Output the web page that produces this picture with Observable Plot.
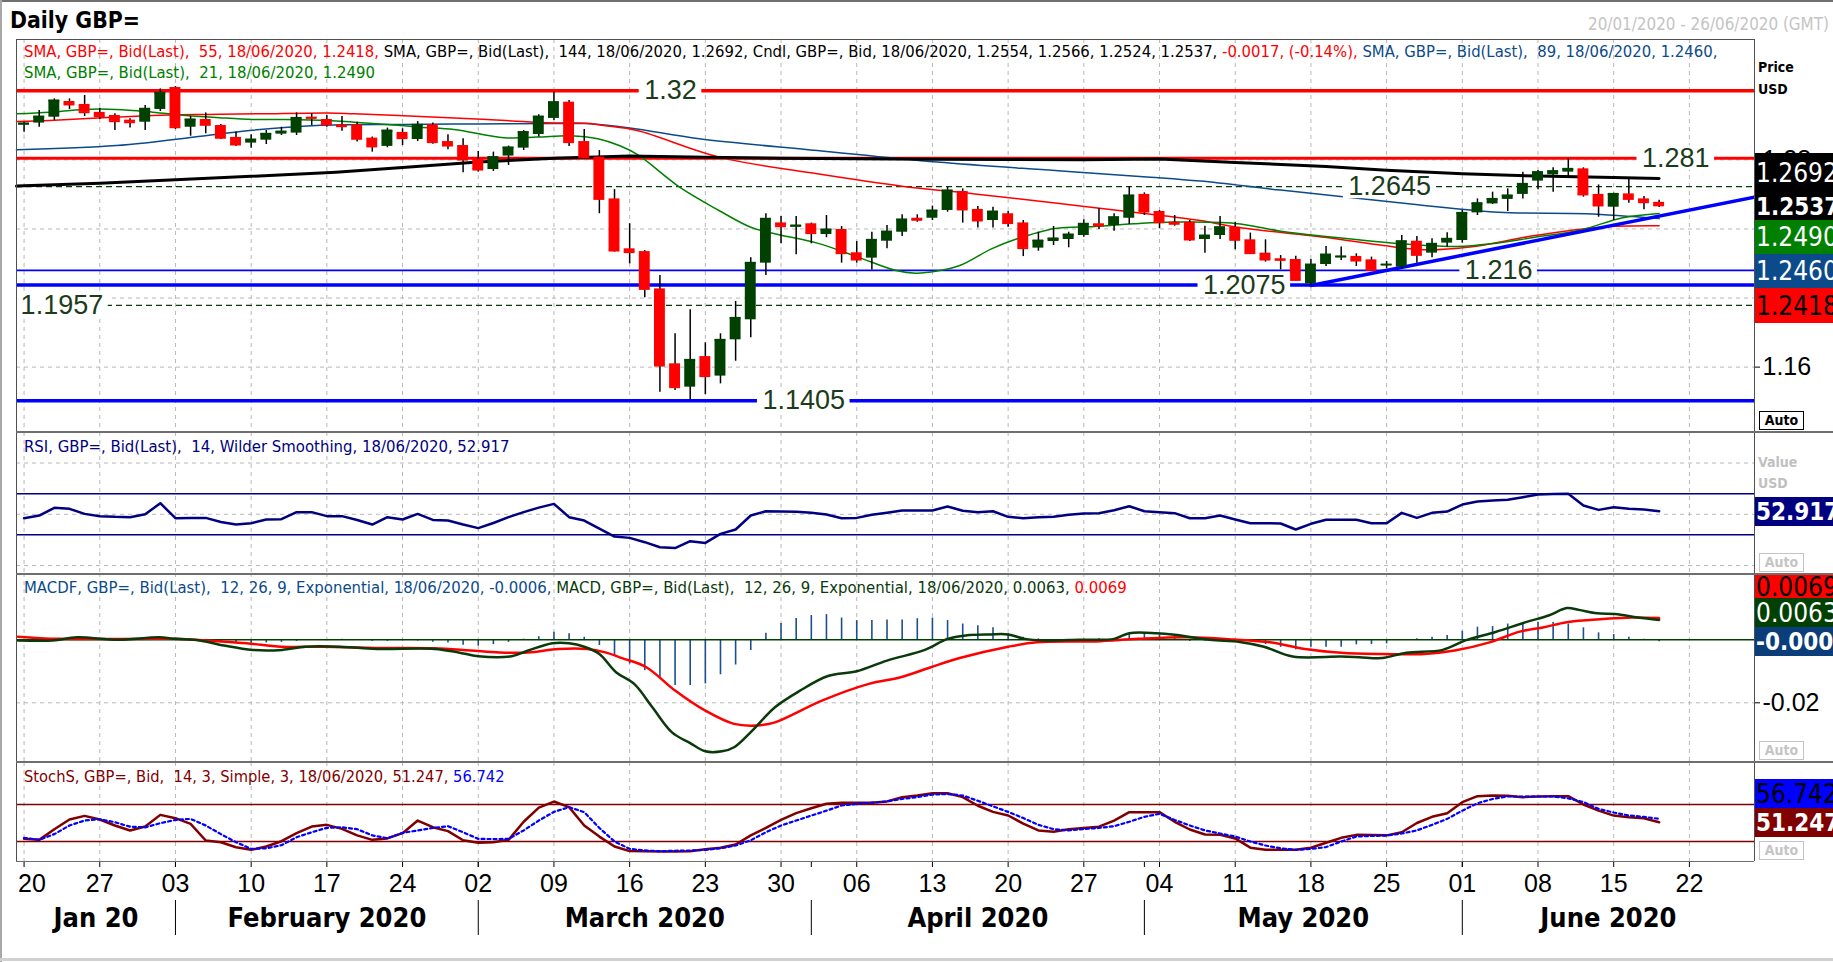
<!DOCTYPE html>
<html><head><meta charset="utf-8">
<script src="https://cdn.jsdelivr.net/npm/d3@7"></script>
<script src="https://cdn.jsdelivr.net/npm/@observablehq/plot@0.6"></script>
<style>
body{margin:0;background:#fff;}
#root{position:relative;width:1833px;height:962px;overflow:hidden;background:#fff;}
#root div{position:absolute;}
.lg{white-space:pre;line-height:1;font-family:"DejaVu Sans Condensed","DejaVu Sans",sans-serif;}
.vb{display:flex;align-items:center;overflow:hidden;white-space:nowrap;font-family:"DejaVu Sans Condensed","DejaVu Sans",sans-serif;font-size:26px;line-height:1;padding-left:1px;box-sizing:border-box;}
.auto{box-sizing:border-box;text-align:center;font:bold 14px "DejaVu Sans Condensed",sans-serif;line-height:17px;}
</style></head><body><div id="root"></div>
<script>
// ---------------- DATA ----------------
// daily candles, trading-day index 0 = 20 Jan 2020 ... 108 = 18 Jun 2020
const open = [1.3001,1.3013,1.3047,1.3138,1.3121,1.3075,1.3057,1.3030,1.3018,1.3092,
1.3219,1.2989,1.3034,1.2999,1.2930,1.2897,1.2914,1.2949,1.2955,1.3047,
1.3034,1.3003,1.3003,1.2926,1.2878,1.2959,1.2918,1.3003,1.2906,1.2883,
1.2802,1.2744,1.2822,1.2868,1.2947,1.3040,1.3134,1.2906,1.2816,1.2574,
1.2285,1.2269,1.2053,1.1619,1.1484,1.1661,1.1548,1.1758,1.1874,1.2202,
1.2435,1.2410,1.2430,1.2368,1.2397,1.2262,1.2231,1.2329,1.2381,1.2462,
1.2462,1.2507,1.2617,1.2513,1.2449,1.2488,1.2435,1.2289,1.2327,1.2339,
1.2362,1.2430,1.2420,1.2462,1.2600,1.2501,1.2439,1.2439,1.2339,1.2362,
1.2410,1.2337,1.2260,1.2227,1.2223,1.2082,1.2194,1.2233,1.2241,1.2221,
1.2188,1.2179,1.2329,1.2260,1.2318,1.2333,1.2493,1.2545,1.2571,1.2600,
1.2677,1.2713,1.2729,1.2748,1.2600,1.2526,1.2603,1.2574,1.2554];
const high = [1.3018,1.3086,1.3153,1.3153,1.3173,1.3099,1.3067,1.3038,1.3115,1.3211,
1.3225,1.3051,1.3072,1.3005,1.2961,1.2945,1.2970,1.2989,1.3072,1.3067,
1.3057,1.3051,1.3018,1.2932,1.2984,1.2980,1.3022,1.3014,1.2945,1.2922,
1.2849,1.2845,1.2880,1.2970,1.3061,1.3192,1.3144,1.2976,1.2854,1.2628,
1.2430,1.2275,1.2130,1.1793,1.1932,1.1741,1.1793,1.1980,1.2233,1.2488,
1.2472,1.2472,1.2434,1.2478,1.2414,1.2327,1.2381,1.2420,1.2482,1.2482,
1.2532,1.2642,1.2632,1.2530,1.2526,1.2501,1.2449,1.2381,1.2414,1.2381,
1.2453,1.2517,1.2488,1.2646,1.2609,1.2507,1.2478,1.2449,1.2416,1.2472,
1.2439,1.2376,1.2337,1.2246,1.2242,1.2223,1.2298,1.2295,1.2256,1.2237,
1.2212,1.2362,1.2356,1.2343,1.2378,1.2507,1.2574,1.2613,1.2632,1.2729,
1.2739,1.2754,1.2806,1.2754,1.2655,1.2607,1.2696,1.2588,1.2566];
const low = [1.2960,1.2989,1.3028,1.3092,1.3051,1.3034,1.2970,1.2984,1.2970,1.3080,
1.2976,1.2937,1.2951,1.2918,1.2877,1.2868,1.2889,1.2941,1.2941,1.2999,
1.2989,1.2966,1.2903,1.2845,1.2870,1.2883,1.2906,1.2891,1.2858,1.2725,
1.2729,1.2733,1.2768,1.2854,1.2932,1.3028,1.2878,1.2802,1.2488,1.2266,
1.2198,1.2001,1.1455,1.1465,1.1411,1.1441,1.1503,1.1634,1.1770,1.2130,
1.2314,1.2250,1.2314,1.2349,1.2202,1.2202,1.2163,1.2285,1.2356,1.2439,
1.2449,1.2497,1.2434,1.2405,1.2405,1.2410,1.2240,1.2271,1.2304,1.2291,
1.2352,1.2397,1.2387,1.2426,1.2478,1.2401,1.2416,1.2327,1.2260,1.2339,
1.2279,1.2252,1.2208,1.2163,1.2098,1.2073,1.2183,1.2217,1.2183,1.2156,
1.2169,1.2169,1.2202,1.2233,1.2295,1.2318,1.2478,1.2542,1.2501,1.2574,
1.2627,1.2613,1.2700,1.2584,1.2468,1.2449,1.2549,1.2511,1.2524];
const close = [1.3011,1.3051,1.3144,1.3121,1.3076,1.3053,1.3024,1.3018,1.3096,1.3188,
1.2989,1.3034,1.3003,1.2928,1.2889,1.2918,1.2951,1.2964,1.3043,1.3043,
1.3005,1.2995,1.2922,1.2878,1.2970,1.2926,1.3003,1.2903,1.2883,1.2802,
1.2744,1.2816,1.2872,1.2961,1.3051,1.3134,1.2903,1.2816,1.2574,1.2275,
1.2266,1.2053,1.1609,1.1484,1.1642,1.1548,1.1758,1.1885,1.2204,1.2459,
1.2416,1.2420,1.2376,1.2397,1.2260,1.2223,1.2337,1.2385,1.2455,1.2453,
1.2507,1.2623,1.2513,1.2449,1.2501,1.2434,1.2289,1.2333,1.2345,1.2368,
1.2430,1.2420,1.2468,1.2594,1.2501,1.2439,1.2430,1.2339,1.2362,1.2410,
1.2337,1.2260,1.2223,1.2221,1.2105,1.2194,1.2252,1.2241,1.2217,1.2163,
1.2194,1.2329,1.2250,1.2314,1.2343,1.2493,1.2549,1.2574,1.2594,1.2661,
1.2729,1.2735,1.2748,1.2600,1.2536,1.2603,1.2574,1.2555,1.2537];

// moving averages read as [index, value]
const sma21 = [[-0.5,1.3067],[1.7,1.3076],[3.9,1.3092],[6.1,1.3092],[8.5,1.3076],[10.7,1.3057],[12.9,1.3044],[15.1,1.3034],[17.3,1.3034],[20.1,1.3028],[21.8,1.3018],[24,1.3005],[26.2,1.2989],[28.4,1.2976],[31.7,1.2928],[33.9,1.2932],[36.1,1.2940],[37.9,1.2922],[39.4,1.2880],[40.6,1.2826],[43.3,1.2642],[45.9,1.2507],[48,1.2410],[49.8,1.2368],[52.4,1.2318],[55,1.2240],[57.6,1.2159],[58.9,1.2144],[60.3,1.2156],[61.8,1.2188],[63.9,1.2285],[65.5,1.2340],[68.1,1.2403],[70.7,1.2414],[73.3,1.2430],[76,1.2440],[80,1.2432],[83,1.2387],[86,1.2356],[89.8,1.2323],[92.6,1.2304],[94.6,1.2298],[96.9,1.2314],[99.8,1.2352],[102.7,1.2391],[105.6,1.2465],[108,1.2490]];
const sma55 = [[-0.5,1.3022],[1.7,1.3028],[5.2,1.3044],[8.5,1.3057],[12,1.3063],[15.6,1.3067],[20.1,1.3072],[21.8,1.3067],[26.2,1.3051],[29.5,1.3038],[35,1.3014],[37.2,1.3012],[38.3,1.2999],[40.5,1.2970],[45.9,1.2816],[52.4,1.2719],[58.1,1.2646],[62.8,1.2603],[68.1,1.2550],[73.3,1.2497],[77.7,1.2449],[80.1,1.2410],[85.9,1.2352],[89.8,1.2304],[92.6,1.2279],[95.5,1.2295],[99.8,1.2362],[104.1,1.2410],[108,1.2418]];
const sma89 = [[-0.5,1.2858],[6.1,1.2883],[12.1,1.2941],[14.9,1.2970],[19.3,1.2999],[25,1.3005],[30,1.3008],[35,1.3010],[37,1.3010],[40,1.2985],[44.6,1.2922],[52.4,1.2854],[60.3,1.2787],[68.1,1.2738],[74.4,1.2700],[77.7,1.2677],[83,1.2625],[91.6,1.2545],[97.4,1.2497],[103.2,1.2488],[108,1.2460]];
const sma144 = [[-0.5,1.2648],[5,1.2665],[10,1.2685],[15,1.2705],[20.6,1.2729],[25,1.2756],[30,1.2787],[35,1.2810],[40,1.2822],[45,1.2815],[50,1.2810],[55,1.2806],[60,1.2804],[65,1.2802],[70,1.2800],[75,1.2805],[80,1.2785],[86,1.2762],[90,1.2740],[95,1.2719],[100,1.2706],[105,1.2698],[108,1.2692]];

// support / resistance levels and trend line
const levels = [1.32, 1.281, 1.2645, 1.216, 1.2075, 1.1957, 1.1405];
const levelText = ["1.32","1.281","1.2645","1.216","1.2075","1.1957","1.1405"];
const levelLabelAt = [42.7, 109.1, 90.2, 97.4, 80.6, 2.5, 51.5];
const trendIdx = [85, 114.3];
const trendPrice = [1.2073, 1.2584];
const priceTicks = [1.16, 1.20, 1.24, 1.28];
const priceGrid = [1.16, 1.20, 1.24, 1.28, 1.32];

// RSI (14)
const rsi = [46.2,48.8,56.3,55.3,50.4,48.2,47.5,47.2,50.0,60.8,
46.2,46.5,46.5,42.5,40.0,41.3,44.9,45.2,52.1,52.1,
48.2,48.2,44.5,40.0,47.2,44.9,50.4,44.5,43.9,40.0,
36.5,41.5,47.2,52.1,56.5,60.2,47.2,43.9,36.0,28.3,
27.0,22.8,17.9,17.0,23.8,22.1,30.9,35.2,48.8,53.0,
52.8,52.5,51.5,49.8,46.2,46.5,49.5,51.5,53.7,53.7,
53.7,57.6,53.5,52.1,53.0,47.5,46.2,47.0,47.5,49.5,
50.8,51.1,54.0,57.9,53.0,52.0,51.1,46.2,46.2,48.8,
45.0,41.3,41.3,41.0,35.2,40.7,44.6,44.6,44.6,41.3,
41.3,51.4,46.5,51.4,52.7,59.5,62.5,63.5,64.1,66.7,
69.3,69.8,70.0,58.6,54.3,56.9,55.3,54.7,52.917];

// MACD (12,26,9): line and signal read as [index, value]; histogram per day
const macdLine = [[-0.4,-0.0002],[1.9,-0.0002],[3.5,0.0008],[6.2,0.0000],[8.9,0.0008],[10,0.0003],[11.6,-0.0002],[13.2,-0.0018],[15.1,-0.0032],[17.05,-0.0032],[18.6,-0.0022],[20.9,-0.0022],[23.3,-0.0029],[27.1,-0.0029],[28.7,-0.0040],[30,-0.0052],[32.2,-0.0052],[33.3,-0.0034],[34.9,-0.0011],[36,-0.0011],[37,-0.0022],[38,-0.0045],[39.1,-0.0103],[40.3,-0.0140],[41.5,-0.0214],[42.8,-0.0294],[44,-0.0328],[45,-0.0354],[46.1,-0.0354],[46.9,-0.0341],[48.1,-0.0288],[49.6,-0.0214],[51.2,-0.0163],[53.1,-0.0115],[55,-0.0100],[57,-0.0066],[59.5,-0.0032],[61,0.0003],[62.2,0.0014],[63.8,0.0017],[65,0.0017],[66.1,0.0003],[67.3,-0.0002],[69.7,0.0000],[72,0.0003],[73,0.0021],[74.8,0.0021],[76,0.0016],[78.3,0.0000],[80.3,-0.0007],[81.9,-0.0022],[83.8,-0.0053],[87,-0.0053],[88.2,-0.0055],[89.7,-0.0058],[91.3,-0.0041],[93.7,-0.0032],[95.2,-0.0002],[97.2,0.0025],[99.2,0.0056],[100.7,0.0077],[101.9,0.0101],[102.7,0.0095],[103.9,0.0084],[105.1,0.0082],[106.6,0.0071],[108,0.0063]];
const macdSignal = [[-0.4,0.0010],[2.3,0.0003],[10,0.0003],[12,-0.0002],[14.7,-0.0011],[17,-0.0022],[19.8,-0.0022],[23.3,-0.0026],[27.1,-0.0027],[29.5,-0.0034],[31.4,-0.0040],[33.3,-0.0040],[35.3,-0.0029],[37.2,-0.0029],[38.4,-0.0040],[39.5,-0.0058],[41.1,-0.0087],[43,-0.0161],[45,-0.0225],[46.9,-0.0267],[48.4,-0.0272],[49.6,-0.0262],[52.7,-0.0193],[55.8,-0.0140],[57.9,-0.0119],[59.9,-0.0087],[61.8,-0.0058],[65,-0.0022],[66.9,-0.0008],[70.8,-0.0005],[73.6,0.0003],[76.8,0.0008],[79.9,0.0001],[82.3,-0.0008],[84.6,-0.0029],[87,-0.0041],[89.3,-0.0045],[92.5,-0.0045],[94.5,-0.0034],[96.8,-0.0008],[98.8,0.0026],[100.4,0.0040],[101.9,0.0056],[104.3,0.0066],[106.2,0.0071],[108,0.0069]];
const macdHist = [-0.0003,-0.0002,0,0.0001,0,0,0,0,0.0001,0.0002,
0,-0.0001,-0.0003,-0.0006,-0.0011,-0.0012,-0.0010,-0.0008,-0.0005,-0.0002,
0,0.0002,-0.0002,-0.0005,-0.0005,-0.0003,-0.0004,-0.0008,-0.0010,-0.0017,
-0.0020,-0.0015,-0.0008,0.0002,0.0010,0.0024,0.0019,0.0008,-0.0018,-0.0050,
-0.0077,-0.0098,-0.0119,-0.0145,-0.0145,-0.0140,-0.0111,-0.0080,-0.0034,0.0021,
0.0052,0.0068,0.0077,0.0080,0.0069,0.0061,0.0061,0.0063,0.0063,0.0067,
0.0069,0.0061,0.0050,0.0045,0.0038,0.0019,0.0008,0.0003,-0.0001,0.0001,
0.0002,0.0003,0.0002,0.0020,0.0020,0.0016,0.0010,-0.0005,-0.0004,-0.0001,
-0.0005,-0.0007,-0.0015,-0.0024,-0.0032,-0.0024,-0.0024,-0.0024,-0.0016,-0.0015,
-0.0013,-0.0002,0.0003,0.0008,0.0014,0.0027,0.0040,0.0042,0.0050,0.0055,
0.0055,0.0055,0.0050,0.0038,0.0022,0.0017,0.0008,0.0002,-0.0006];

// Slow stochastic (14,3,3)
const stochK = [24.3,22.7,40.0,55.7,61.6,55.7,46.0,37.8,44.3,63.2,
57.8,48.6,21.6,18.9,10.8,6.5,11.9,20.5,33.5,44.3,
47.0,40.5,30.0,22.7,25.0,33.5,54.0,43.2,36.8,22.0,
17.9,18.9,22.7,52.0,75.0,84.8,75.7,46.0,28.0,12.0,
4.5,4.3,3.8,4.0,4.3,7.6,10.0,15.2,30.0,42.0,
55.0,66.0,74.0,81.1,82.7,82.7,82.7,85.0,91.9,94.6,
98.3,98.3,91.9,78.0,68.0,62.2,49.0,38.0,36.0,40.0,
42.0,44.0,54.0,67.6,67.6,67.6,52.0,39.5,31.4,31.0,
25.0,10.0,6.5,6.5,6.5,10.0,18.0,26.0,30.8,30.5,
30.0,35.0,50.0,60.0,65.9,83.8,93.5,94.6,94.0,91.9,
93.0,93.5,93.5,80.0,70.0,62.0,59.5,57.8,51.247];
const stochD = [26.0,22.7,32.0,46.0,54.0,56.0,51.3,44.0,43.0,49.7,
55.0,56.7,46.0,32.0,18.9,8.1,9.0,14.0,27.0,35.0,
42.2,43.0,40.0,30.0,25.4,34.0,38.0,42.0,44.8,35.0,
24.3,24.0,24.3,38.0,54.0,68.0,75.7,67.6,42.0,20.0,
8.1,5.5,4.3,5.0,5.5,6.5,9.0,13.5,22.0,35.0,
46.0,54.0,62.0,70.0,78.4,81.0,83.0,85.0,89.0,92.0,
96.0,97.0,94.6,86.0,77.0,68.0,58.0,47.0,40.0,38.0,
40.0,42.0,44.8,52.0,60.0,64.9,55.0,46.0,38.0,33.0,
28.1,20.0,13.5,9.0,6.5,8.0,11.0,20.0,28.1,29.0,
29.7,33.0,38.0,47.0,56.7,70.0,82.0,89.0,93.0,93.0,
93.0,93.0,90.0,84.0,73.0,67.0,62.2,60.0,56.742];

// axis labels
const weekLabels = ["20","27","03","10","17","24","02","09","16","23","30","06","13","20","27","04","11","18","25","01","08","15","22"];
const monthNames = ["Jan 20","February 2020","March 2020","April 2020","May 2020","June 2020"];
const monthStartIdx = [-0.5, 10, 30, 52, 74, 95];

// ---------------- DRAWING ----------------
const root = document.getElementById("root");
const W = 1833, X0 = -0.5, X1 = 114.3;
const GREEN = "#004000", RED = "#ff0000", GRID = "#b8b8b8";
const weekIdx = weekLabels.map((_, k) => 5 * k);
const vgrid = () => Plot.ruleX(weekIdx, {stroke: GRID, strokeDasharray: "4,4", strokeWidth: 1});

function panel(top, height, yDomain, marks) {
  const svg = Plot.plot({
    width: W, height, marginLeft: 16, marginRight: 79, marginTop: 0, marginBottom: 0,
    x: {type: "linear", domain: [X0, X1], axis: null},
    y: yDomain ? {domain: yDomain, axis: null} : undefined,
    marks,
    style: {background: "transparent", overflow: "hidden", fontFamily: "Liberation Sans, Arial, sans-serif", color: "#000"}
  });
  const wrap = document.createElement("div");
  wrap.style.left = "0px"; wrap.style.top = top + "px";
  wrap.appendChild(svg);
  root.appendChild(wrap);
  return svg;
}
function box(l, t, w, h, style) {
  const d = document.createElement("div");
  Object.assign(d.style, {left: l + "px", top: t + "px", width: w + "px", height: h + "px"}, style || {});
  root.appendChild(d);
  return d;
}

// main price panel
const candles = close.map((c, i) => ({i, o: open[i], h: high[i], l: low[i], c, up: c >= open[i]}));
const up = candles.filter(d => d.up), dn = candles.filter(d => !d.up);
const HW = 0.36;
const pts = a => a.map(([x, y]) => ({x, y}));
const LABEL_FONT = "27px 'Liberation Sans'";
const ctx = document.createElement("canvas").getContext("2d");
ctx.font = LABEL_FONT;
// white background behind each level label (sized from the label text)
const labelBacks = levels.map((v, k) => {
  const half = ctx.measureText(levelText[k]).width / 2 + 5;
  return Plot.rect([v], {x1: levelLabelAt[k], x2: levelLabelAt[k], y1: v, y2: v,
    insetLeft: -half, insetRight: -half, insetTop: -12, insetBottom: -12, fill: "white"});
});
const mainMarks = [
  vgrid(),
  Plot.ruleY(priceGrid, {stroke: GRID, strokeDasharray: "4,4", strokeWidth: 1}),
  ...levels.map((v, k) => Plot.ruleY([v], {
    stroke: [RED, RED, "#0a3a0a", "#0000ff", "#0000ff", "#0a3a0a", "#0000ff"][k],
    strokeWidth: [3.5, 3, 1.2, 1.6, 3.5, 1.2, 3.5][k],
    strokeDasharray: [null, null, "6,4", null, null, "6,4", null][k]
  })),
  Plot.line(pts(sma89), {x: "x", y: "y", stroke: "#0b4a8b", strokeWidth: 1.5, curve: "catmull-rom"}),
  Plot.line(pts(sma55), {x: "x", y: "y", stroke: RED, strokeWidth: 1.5, curve: "catmull-rom"}),
  Plot.line(pts(sma21), {x: "x", y: "y", stroke: "#008000", strokeWidth: 1.5, curve: "catmull-rom"}),
  Plot.line(pts(sma144), {x: "x", y: "y", stroke: "#000", strokeWidth: 3, curve: "linear"}),
  Plot.line(trendIdx.map((x, k) => ({x, y: trendPrice[k]})), {x: "x", y: "y", stroke: "#0000ff", strokeWidth: 3.5, clip: true}),
  Plot.ruleX(candles, {x: "i", y1: "l", y2: "h", stroke: "#000", strokeWidth: 1.5}),
  Plot.rect(up, {x1: d => d.i - HW, x2: d => d.i + HW, y1: "o", y2: "c", fill: GREEN}),
  Plot.rect(dn, {x1: d => d.i - HW, x2: d => d.i + HW, y1: "o", y2: "c", fill: RED}),
  Plot.ruleY(up, {y: "c", x1: d => d.i - HW, x2: d => d.i + HW, stroke: GREEN, strokeWidth: 2}),
  Plot.ruleY(dn, {y: "c", x1: d => d.i - HW, x2: d => d.i + HW, stroke: RED, strokeWidth: 2}),
  ...labelBacks,
  Plot.text(levels, {x: (d, k) => levelLabelAt[k], y: d => d, text: (d, k) => levelText[k],
    fontSize: 27, fontFamily: "Liberation Sans", lineAnchor: "middle", textAnchor: "middle", fill: "#1b3b1b"}),
  Plot.axisY({anchor: "right", ticks: priceTicks, tickSize: 5, tickPadding: 3, fontSize: 25,
    tickFormat: d => d.toFixed(2), fontFamily: "Liberation Sans"})
];
panel(39, 392, [1.12272, 1.34970], mainMarks);

// RSI panel
panel(432, 141, [-7.76, 129.8], [
  vgrid(),
  Plot.ruleY([0, 50, 100], {stroke: GRID, strokeDasharray: "4,4", strokeWidth: 1}),
  Plot.ruleY([70, 30], {stroke: "#000080", strokeWidth: 1.5}),
  Plot.line(rsi, {x: (d, i) => i, y: d => d, stroke: "#000080", strokeWidth: 2.5})
]);

// MACD panel
panel(573, 189, [-0.03895, 0.02105], [
  vgrid(),
  Plot.ruleY([-0.02], {stroke: GRID, strokeDasharray: "4,4", strokeWidth: 1}),
  Plot.ruleX(macdHist, {x: (d, i) => i, y1: 0, y2: d => d, stroke: "#1f4e8c", strokeWidth: 1.6}),
  Plot.ruleY([0], {stroke: "#004000", strokeWidth: 1.5}),
  Plot.line(pts(macdSignal), {x: "x", y: "y", stroke: RED, strokeWidth: 2.5, curve: "catmull-rom"}),
  Plot.line(pts(macdLine), {x: "x", y: "y", stroke: "#0a3a0a", strokeWidth: 2.5, curve: "catmull-rom"}),
  Plot.axisY({anchor: "right", ticks: [0, -0.02], tickSize: 5, tickPadding: 3, fontSize: 25,
    tickFormat: d => d === 0 ? "0" : d.toFixed(2), fontFamily: "Liberation Sans"})
]);

// Stochastic panel
panel(762, 99, [-12.38, 148.07], [
  vgrid(),
  Plot.ruleY([80, 20], {stroke: "#800000", strokeWidth: 1.5}),
  Plot.line(stochK, {x: (d, i) => i, y: d => d, stroke: "#800000", strokeWidth: 2.5}),
  Plot.line(stochD, {x: (d, i) => i, y: d => d, stroke: "#0000ff", strokeWidth: 2.2, strokeDasharray: "3,3"})
]);

// X axis (days and months)
const monthMid = monthStartIdx.map((s, k) => (s + (k + 1 < monthStartIdx.length ? monthStartIdx[k + 1] : X1)) / 2);
const dayText = {frameAnchor: "top", dy: 22, lineAnchor: "middle", fontSize: 25, fill: "#000", fontFamily: "Liberation Sans"};
panel(861, 101, null, [
  Plot.ruleX(weekIdx, {stroke: "#000", strokeWidth: 1, insetBottom: 95}),
  Plot.ruleX(monthStartIdx.slice(1), {stroke: "#000", strokeWidth: 1, insetBottom: 95}),
  Plot.text(weekIdx.slice(0, 1), {...dayText, x: d => d, text: () => weekLabels[0], textAnchor: "start", dx: -6}),
  Plot.text(weekIdx.slice(1), {...dayText, x: d => d, text: (d, k) => weekLabels[k + 1]}),
  Plot.ruleX(monthStartIdx.slice(1), {stroke: "#000", strokeWidth: 1, insetTop: 39, insetBottom: 27}),
  Plot.text(monthMid, {x: d => d, text: (d, k) => monthNames[k], frameAnchor: "top", dy: 57,
    lineAnchor: "middle", fontSize: 27, fontWeight: "bold", fill: "#000",
    fontFamily: "DejaVu Sans Condensed, DejaVu Sans, sans-serif"})
]);

// frames and separators
box(0, 0, 1833, 2, {background: "#707070"});
box(0, 0, 2, 962, {background: "#a8a8a8"});
box(0, 958, 1833, 3, {background: "#d0d0d0"});
box(16, 38.5, 1738, 1.2, {background: "#505050"});
box(15.5, 39, 1.5, 822, {background: "#505050"});
box(1753.5, 39, 1.2, 822, {background: "#505050"});
[431, 572.5, 761].forEach(t => box(16, t, 1817, 2, {background: "#6e6e6e"}));
box(16, 860.5, 1738, 1.5, {background: "#6e6e6e"});

// value boxes on the right axis
function vbox(t, b, bg, color, text, bold) {
  const d = box(1755, t, 78, b - t, {background: bg, color});
  d.className = "vb";
  if (bold) { d.style.fontWeight = "bold"; d.style.fontSize = "24px"; }
  d.textContent = text;
}
vbox(152.7, 193, "#000", "#fff", "1.2692", false);
vbox(193, 220, "#000", "#fff", "1.2537", true);
vbox(220, 254, "#008000", "#fff", "1.2490", false);
vbox(254, 288, "#0b4a8b", "#fff", "1.2460", false);
vbox(288, 323, "#ff0000", "#000", "1.2418", false);
vbox(497, 526, "#000080", "#fff", "52.917", true);
vbox(575, 598, "#ff0000", "#000", "0.0069", false);
vbox(598, 627, "#004000", "#fff", "0.0063", false);
vbox(627, 656, "#0a3d7a", "#fff", "-0.000", true);
vbox(779, 808, "#0000ff", "#000", "56.742", false);
vbox(808, 837, "#800000", "#fff", "51.247", true);

function autoBox(t, c) {
  const d = box(1759, t, 45, 19, {border: "1px solid " + c, color: c, background: "#fff"});
  d.className = "auto"; d.textContent = "Auto";
}
autoBox(411, "#000"); autoBox(553, "#c4c4c4"); autoBox(741, "#c4c4c4"); autoBox(841, "#c4c4c4");

function smallLabel(t, text, color) {
  const d = box(1758, t, 70, 18, {font: "bold 14px 'DejaVu Sans Condensed', sans-serif", color, lineHeight: "18px"});
  d.textContent = text;
}
smallLabel(57.5, "Price", "#000"); smallLabel(79.5, "USD", "#000");
smallLabel(452.5, "Value", "#c0c0c0"); smallLabel(474, "USD", "#c0c0c0");

// legend texts
function legend(left, center, target, parts, opts) {
  const d = document.createElement("div");
  d.className = "lg";
  d.style.left = left + "px";
  d.style.fontSize = "15px";
  if (opts && opts.bold) d.style.fontWeight = "bold";
  parts.forEach(([txt, col]) => {
    const s = document.createElement("span");
    s.textContent = txt; s.style.color = col;
    d.appendChild(s);
  });
  root.appendChild(d);
  const w = d.getBoundingClientRect().width;
  const fs = 15 * target / w;
  d.style.fontSize = fs + "px";
  d.style.top = (center - 0.48 * fs) + "px";
  if (opts && opts.right) { d.style.left = (opts.right - target) + "px"; }
  return d;
}
legend(10, 19.5, 130, [["Daily GBP=", "#000"]], {bold: true});
legend(0, 24, 241, [["20/01/2020 - 26/06/2020 (GMT)", "#c4c4c4"]], {right: 1829});
legend(24, 51.7, 1694, [
  ["SMA, GBP=, Bid(Last),  55, 18/06/2020, 1.2418, ", "#ff0000"],
  ["SMA, GBP=, Bid(Last),  144, 18/06/2020, 1.2692, Cndl, GBP=, Bid, 18/06/2020, 1.2554, 1.2566, 1.2524, 1.2537, ", "#000"],
  ["-0.0017, (-0.14%), ", "#ff0000"],
  ["SMA, GBP=, Bid(Last),  89, 18/06/2020, 1.2460,", "#0b4a8b"]
]);
legend(24, 72.7, 351, [["SMA, GBP=, Bid(Last),  21, 18/06/2020, 1.2490", "#008000"]]);
legend(24, 446.7, 486, [["RSI, GBP=, Bid(Last),  14, Wilder Smoothing, 18/06/2020, 52.917", "#000080"]]);
legend(24, 588.3, 1103, [
  ["MACDF, GBP=, Bid(Last),  12, 26, 9, Exponential, 18/06/2020, -0.0006, ", "#0b4a8b"],
  ["MACD, GBP=, Bid(Last),  12, 26, 9, Exponential, 18/06/2020, 0.0063, ", "#0a3a0a"],
  ["0.0069", "#ff0000"]
]);
legend(24, 776.7, 481, [
  ["StochS, GBP=, Bid,  14, 3, Simple, 3, 18/06/2020, 51.247, ", "#800000"],
  ["56.742", "#0000ff"]
]);
</script></body></html>
